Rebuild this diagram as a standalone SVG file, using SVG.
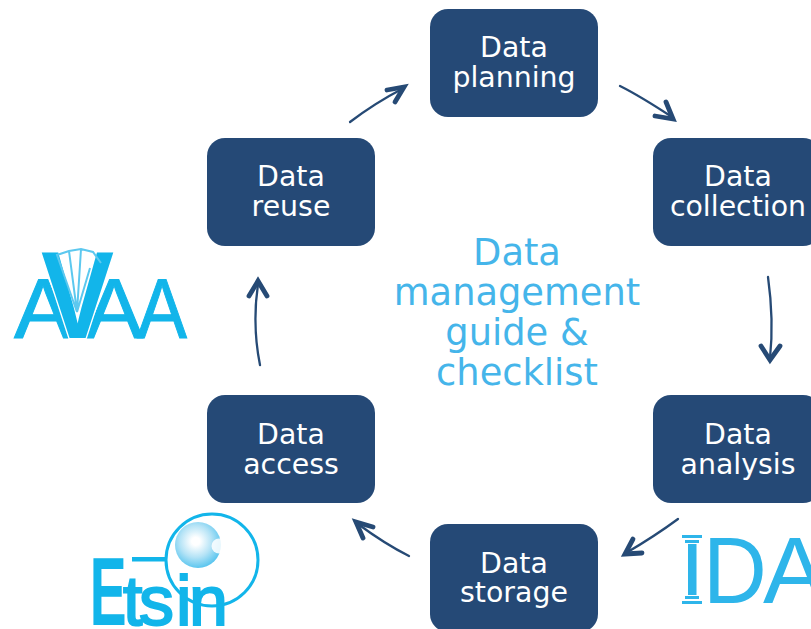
<svg xmlns="http://www.w3.org/2000/svg" width="811" height="629" viewBox="0 0 811 629">
<defs>
<style>
.box{fill:#254976}
.lbl{font-family:"DejaVu Sans",Verdana,sans-serif;font-size:28.4px;fill:#fff;text-anchor:middle}
.ttl{font-family:"DejaVu Sans",Verdana,sans-serif;font-size:36.8px;fill:#45b5ea;text-anchor:middle}
.shaft{fill:none;stroke:#264a75;stroke-width:2.3;stroke-linecap:round}
.head{fill:none;stroke:#264a75;stroke-width:4.8;stroke-linecap:round;stroke-linejoin:miter}
.logo{font-family:"Liberation Sans",Arial,sans-serif;fill:#12b5ea}
.b{font-weight:700}
.lline{fill:none;stroke:#5cc8ef}
</style>
<radialGradient id="orb" cx="0.45" cy="0.42" r="0.58">
<stop offset="0.15" stop-color="#fff"/><stop offset="0.6" stop-color="#b4e3f6"/><stop offset="1" stop-color="#5cc6ef"/>
</radialGradient>
</defs>
<g id="connectors">
<path class="shaft" d="M620 86Q640 96 672 117"/><path class="head" d="M655 116L673 119L666 102"/>
<path class="shaft" d="M768 277Q774 320 770 358"/><path class="head" d="M761 346L770 360L780 346"/>
<path class="shaft" d="M678 519Q655 536 626 553"/><path class="head" d="M642 553L625 554L633 539"/>
<path class="shaft" d="M409 556Q385 544 358 524"/><path class="head" d="M373 527L356 522L363 538"/>
<path class="shaft" d="M260 365Q252 325 258 284"/><path class="head" d="M249 296L258 281L267 296"/>
<path class="shaft" d="M350 122Q375 103 402 89"/><path class="head" d="M387 90L404 87L395 102"/>
</g>
<g id="node-planning"><rect class="box" x="430" y="9" width="168" height="108" rx="18"/><text class="lbl" x="514" y="57">Data</text><text class="lbl" x="514" y="87">planning</text></g>
<g id="node-collection"><rect class="box" x="653" y="138" width="168" height="108" rx="18"/><text class="lbl" x="738" y="186">Data</text><text class="lbl" x="738" y="216">collection</text></g>
<g id="node-analysis"><rect class="box" x="653" y="395" width="168" height="108" rx="18"/><text class="lbl" x="738" y="444">Data</text><text class="lbl" x="738" y="474">analysis</text></g>
<g id="node-storage"><rect class="box" x="430" y="524" width="168" height="108" rx="18"/><text class="lbl" x="514" y="573">Data</text><text class="lbl" x="514" y="602">storage</text></g>
<g id="node-access"><rect class="box" x="207" y="395" width="168" height="108" rx="18"/><text class="lbl" x="291" y="444">Data</text><text class="lbl" x="291" y="474">access</text></g>
<g id="node-reuse"><rect class="box" x="207" y="138" width="168" height="108" rx="18"/><text class="lbl" x="291" y="186">Data</text><text class="lbl" x="291" y="216">reuse</text></g>
<g id="title"><text class="ttl" x="517" y="265">Data</text><text class="ttl" x="517" y="305">management</text><text class="ttl" x="517" y="345">guide &amp;</text><text class="ttl" x="517" y="385">checklist</text></g>
<g id="logo-avaa">
<text class="logo" x="14" y="338" font-size="85" textLength="58" lengthAdjust="spacingAndGlyphs" stroke="#12b5ea" stroke-width="1">A</text>
<text class="logo" x="137" y="338" font-size="85" textLength="50" lengthAdjust="spacingAndGlyphs" stroke="#12b5ea" stroke-width="1">A</text>
<text class="logo" x="85" y="338" font-size="85" textLength="58" lengthAdjust="spacingAndGlyphs" stroke="#12b5ea" stroke-width="1">A</text>
<text class="logo b" x="41" y="338" font-size="124" textLength="73" lengthAdjust="spacingAndGlyphs" stroke="#fff" stroke-width="3" paint-order="stroke">V</text>
<path class="lline" stroke-width="2" d="M77 312L57 255L69 251L81 249L93 252L101 263M77 312L69 251M77 312L81 249M77 312L90 268"/>
</g>
<g id="logo-etsin">
<circle cx="212" cy="560" r="46" fill="none" stroke="#12b5ea" stroke-width="3"/>
<circle cx="198" cy="545" r="23" fill="url(#orb)"/>
<rect x="132" y="557" width="34" height="4.5" fill="#12b5ea"/>
<circle cx="219" cy="546" r="7.5" fill="#fff" opacity="0.85"/>
<text class="logo b" transform="translate(89.7 625) scale(.57 1)" font-size="97">E</text>
<text class="logo" x="123 139 176 189" y="625" font-size="70" stroke="#12b5ea" stroke-width="2">tsin</text>
</g>
<g id="logo-ida">
<rect x="682" y="535" width="20" height="3" fill="#2eb5ea"/><rect x="685" y="540" width="14" height="3" fill="#2eb5ea"/>
<rect x="688" y="544" width="8.5" height="51" fill="#2eb5ea"/>
<rect x="685" y="596" width="14" height="3" fill="#2eb5ea"/><rect x="682" y="601" width="20" height="3" fill="#2eb5ea"/>
<text transform="translate(703 603) scale(.93 1)" font-family="Liberation Sans,Arial,sans-serif" font-size="95" fill="#2eb5ea">D</text>
<text x="763" y="603" font-family="Liberation Sans,Arial,sans-serif" font-size="95" fill="#2eb5ea">A</text>
</g>
</svg>
